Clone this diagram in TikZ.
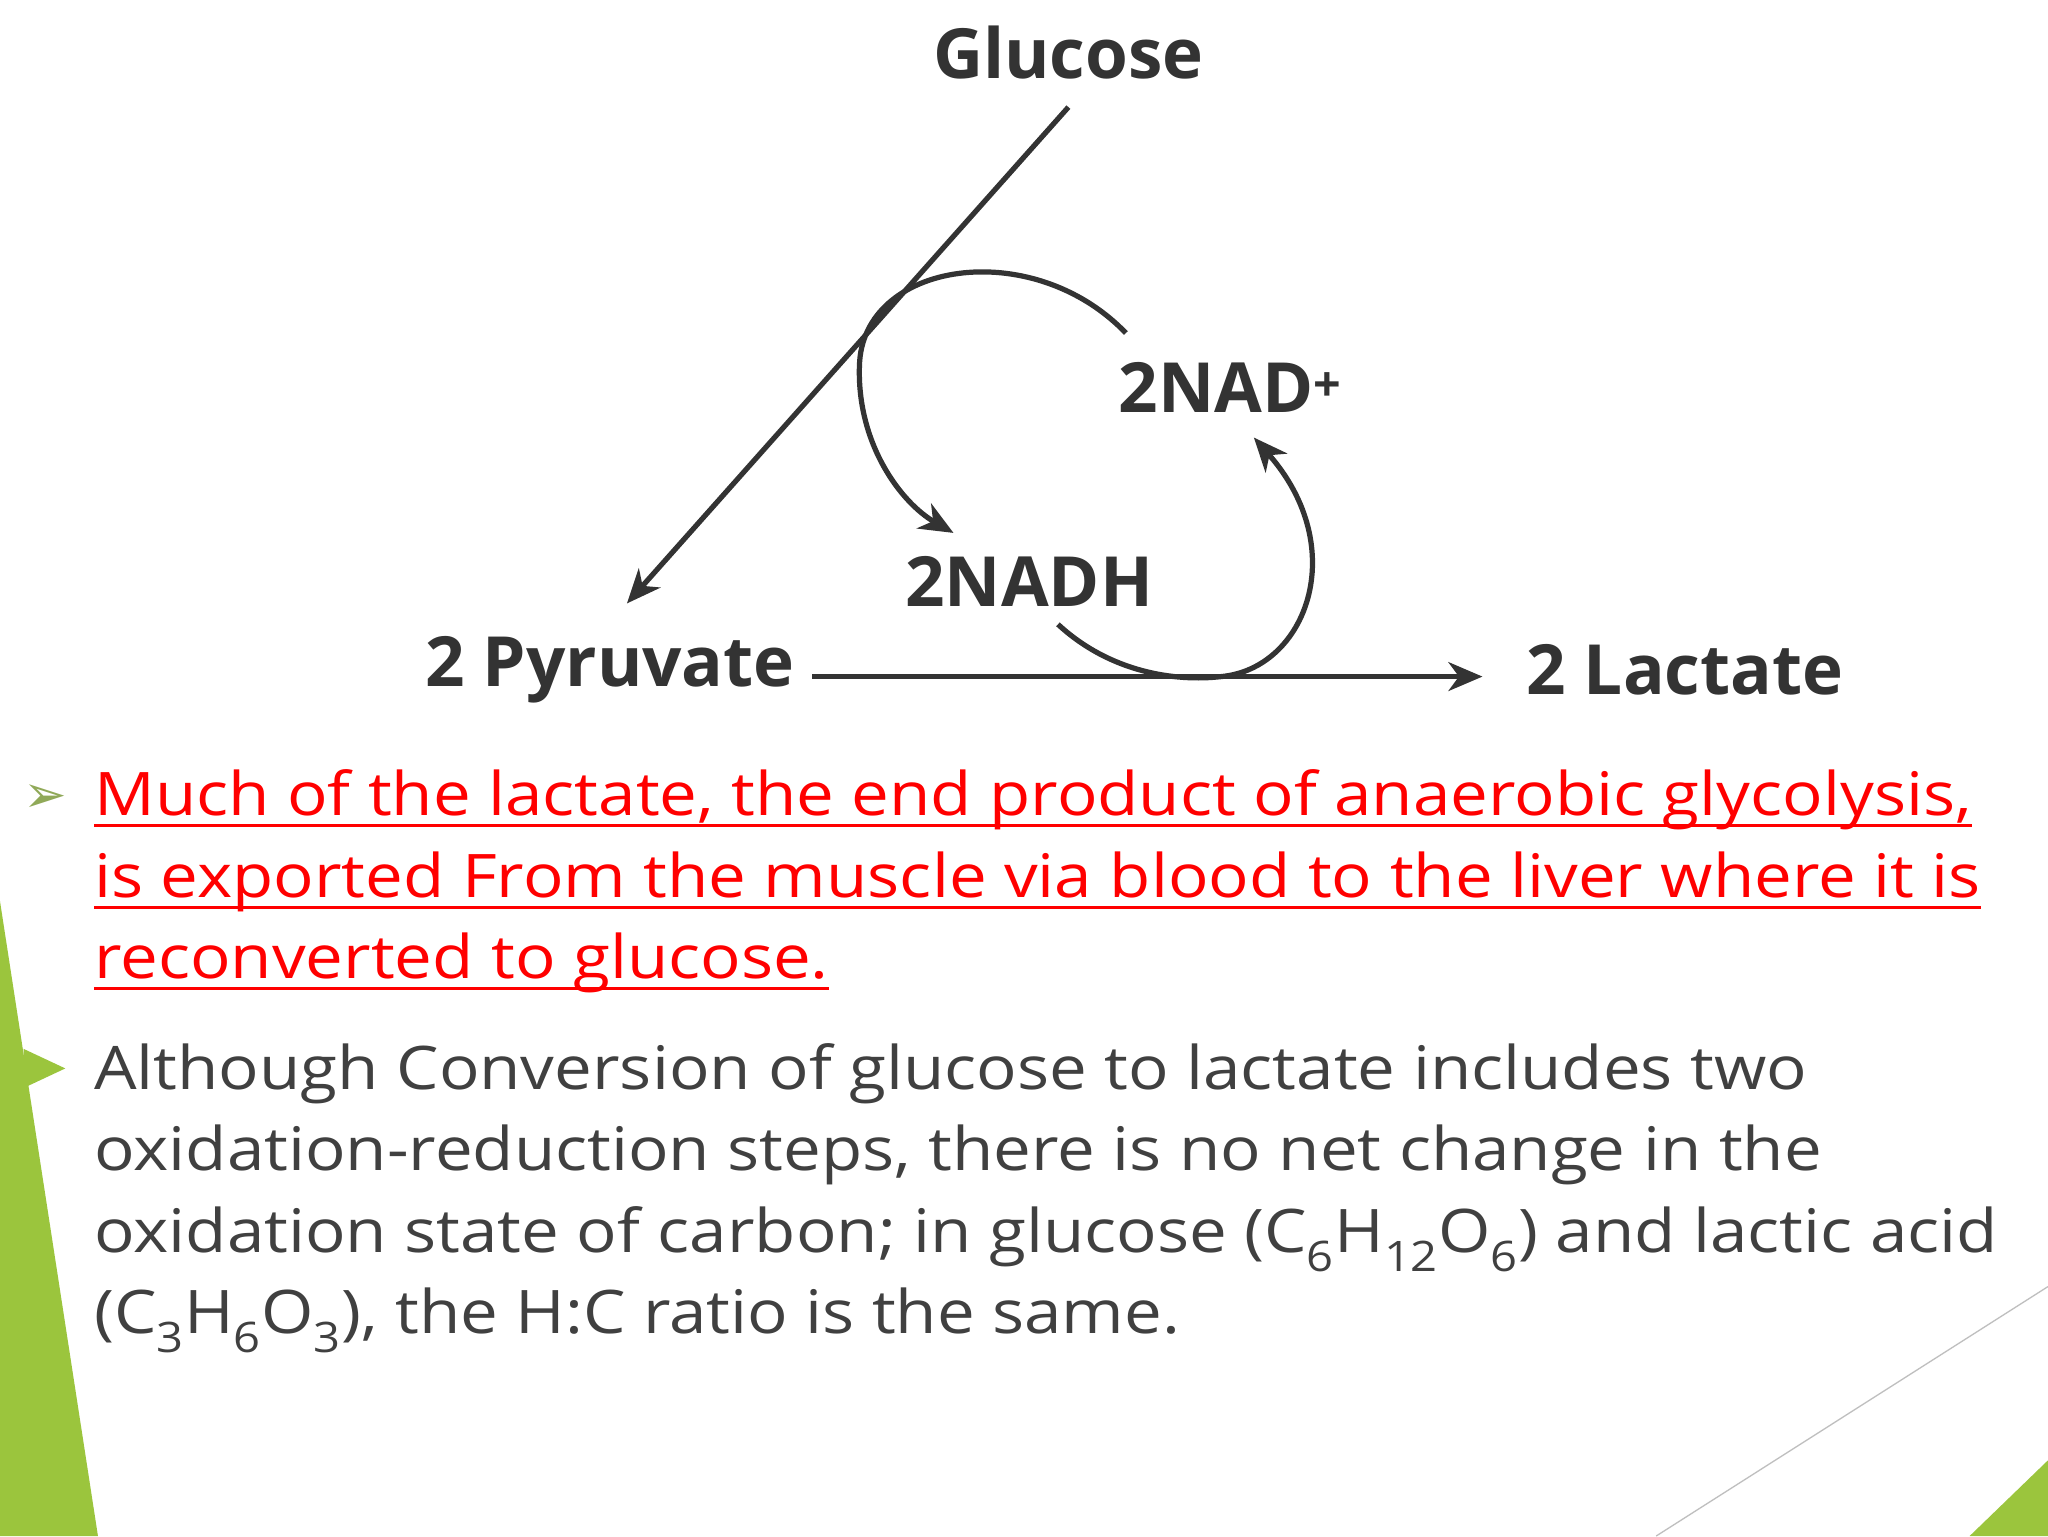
\documentclass[tikz,border=0pt]{standalone}
\usepackage{fontspec}
\setmainfont{Open Sans}
\newfontfamily\bodyf[FakeStretch=1.12]{Open Sans}
\newfontfamily\symf{DejaVu Sans}
\usetikzlibrary{arrows.meta}
\definecolor{dk}{HTML}{333333}
\definecolor{bodyc}{HTML}{404040}
\definecolor{lime}{HTML}{9BC53D}
\tikzset{
 lab/.style={font=\fontsize{53}{60}\selectfont\bfseries, text=dk, inner sep=0},
 ln/.style={line width=4pt, draw=dk},
 arr/.style={ln, -{Stealth[length=26pt,width=22pt,inset=8pt]}},
 redtxt/.style={font=\bodyf\fontsize{46}{55}\selectfont, text=red, anchor=base west, inner sep=0},
 bod/.style={font=\bodyf\fontsize{46}{55}\selectfont, text=bodyc, anchor=base west, inner sep=0},
}
\begin{document}
\begin{tikzpicture}[x=1pt,y=-1pt]
\useasboundingbox (0,0) rectangle (1568,1176);
\fill[white] (0,0) rectangle (1568,1176);
% decorations
\fill[lime] (0,690) -- (75,1176) -- (0,1176) -- cycle;
\fill[lime] (1568,1118) -- (1568,1176) -- (1508,1176) -- cycle;
\draw[gray!50, line width=1pt] (1268,1176) -- (1568,985);
% diagram
\node[lab] (glu) at (818,40) {Glucose};
\node[lab] (pyr) at (467,513) {2 Pyruvate};
\node[lab] (lac) at (1290,513) {2 Lactate};
\node[lab] (nad) at (942,297) {2NAD\textsuperscript{+}};
\node[lab] (nadh) at (788,445) {2NADH};
\coordinate (g1) at (818,82);
\coordinate (p1) at (480,462);
\draw[arr] (g1) -- (p1);
\coordinate (h1) at (622,518);
\coordinate (h2) at (1135,518);
\draw[arr] (h1) -- (h2);
\coordinate (c1) at (862,255);
\coordinate (c2) at (730,408);
\draw[arr] (c1) .. controls (790,180) and (660,200) .. (658,280) .. controls (656,340) and (690,385) .. (c2);
\coordinate (d1) at (810,478);
\coordinate (d2) at (960,335);
\draw[arr] (d1) .. controls (850,515) and (900,522) .. (935,518) .. controls (1000,512) and (1035,420) .. (d2);
% bullet 1
\node[font=\symf\fontsize{40}{46}\selectfont, text=lime!60!gray, anchor=base west, inner sep=0] (b1) at (18,622) {➢};
\node[redtxt] (r1) at (72,624) {Much of the lactate, the end product of anaerobic glycolysis,};
\node[redtxt] (r2) at (72,687) {is exported From the muscle via blood to the liver where it is};
\node[redtxt] (r3) at (72,749) {reconverted to glucose.};
\foreach \n in {r1,r2,r3}
  \draw[draw=red, line width=2.5pt] ([yshift=-8pt]\n.base west) -- ([yshift=-8pt]\n.base east);
% bullet 2
\fill[lime] (18,803) -- (50,818) -- (18,833) -- cycle;
\node[bod] (t1) at (72,834) {Although Conversion of glucose to lactate includes two};
\node[bod] (t2) at (72,896) {oxidation-reduction steps, there is no net change in the};
\node[bod] (t3) at (72,959) {oxidation state of carbon; in glucose (C\textsubscript{6}H\textsubscript{12}O\textsubscript{6}) and lactic acid};
\node[bod] (t4) at (72,1021) {(C\textsubscript{3}H\textsubscript{6}O\textsubscript{3}), the H:C ratio is the same.};
\end{tikzpicture}
\end{document}
